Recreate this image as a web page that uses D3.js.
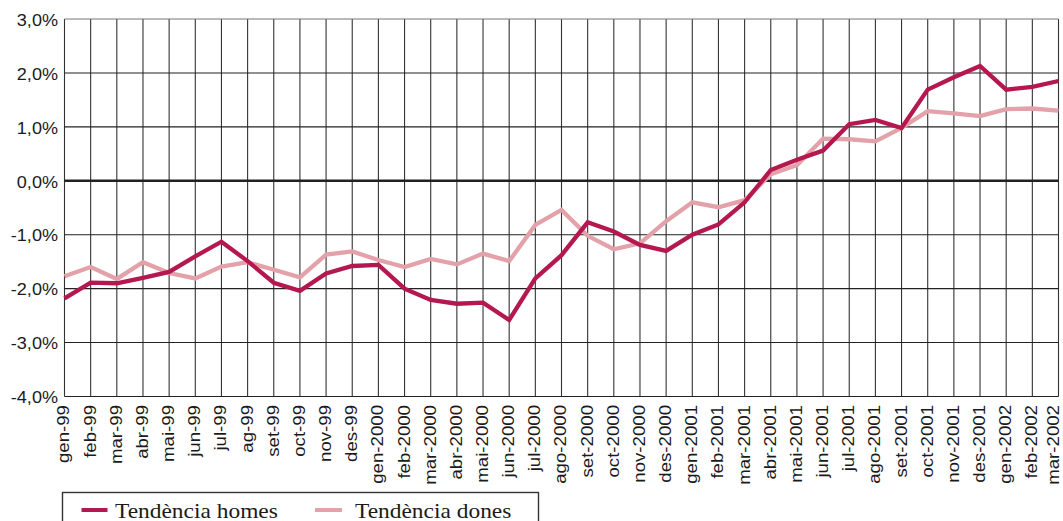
<!DOCTYPE html>
<html><head><meta charset="utf-8">
<script src="https://cdn.jsdelivr.net/npm/d3@7"></script>
<style>
html,body{margin:0;padding:0;background:#fff;}
svg{display:block;}
</style></head>
<body>
<svg id="chart" width="1063" height="521"></svg>
<script>
const months = ["gen-99","feb-99","mar-99","abr-99","mai-99","jun-99","jul-99","ag-99","set-99","oct-99","nov-99","des-99",
"gen-2000","feb-2000","mar-2000","abr-2000","mai-2000","jun-2000","jul-2000","ago-2000","set-2000","oct-2000","nov-2000","des-2000",
"gen-2001","feb-2001","mar-2001","abr-2001","mai-2001","jun-2001","jul-2001","ago-2001","set-2001","oct-2001","nov-2001","des-2001",
"gen-2002","feb-2002","mar-2002"];
const homes = [-2.18,-1.89,-1.90,-1.80,-1.69,-1.40,-1.13,-1.49,-1.89,-2.04,-1.72,-1.58,
-1.56,-2.00,-2.21,-2.28,-2.26,-2.58,-1.81,-1.38,-0.77,-0.94,-1.19,-1.30,
-1.00,-0.81,-0.40,0.20,0.39,0.56,1.05,1.13,0.98,1.69,1.92,2.13,
1.69,1.74,1.85];
const dones = [-1.77,-1.60,-1.82,-1.51,-1.71,-1.81,-1.59,-1.51,-1.65,-1.79,-1.37,-1.31,
-1.47,-1.60,-1.45,-1.55,-1.35,-1.49,-0.82,-0.54,-1.02,-1.27,-1.16,-0.75,
-0.40,-0.49,-0.36,0.12,0.29,0.78,0.77,0.73,0.98,1.29,1.25,1.20,
1.33,1.34,1.30];
const yTicks = [3,2,1,0,-1,-2,-3,-4];
const seriesNames = ["Tendència homes","Tendència dones"];
const seriesColors = ["#b5174f","#e3a2a9"];

const svg = d3.select("#chart");
const W = 1063;
const L = 64.5, R = 1058.5, T = 19, B = 396.5;
const x = d3.scalePoint().domain(months).range([L, R]);
const y = d3.scaleLinear().domain([-4, 3]).range([B, T]);
const fmt = v => d3.format(".1f")(v).replace(".", ",").replace("−","-") + "%";
const stretch = 1.13;

// vertical grid
svg.append("g").selectAll("line").data(months).join("line")
  .attr("x1", d => x(d)).attr("x2", d => x(d))
  .attr("y1", T).attr("y2", B)
  .attr("stroke", "#333").attr("stroke-width", 1.1);
// horizontal grid
svg.append("g").selectAll("line").data(yTicks.filter(d => d !== 0)).join("line")
  .attr("x1", L).attr("x2", R)
  .attr("y1", d => y(d)).attr("y2", d => y(d))
  .attr("stroke", d => d === 3 ? "#777" : "#222").attr("stroke-width", 1.1);
// zero line
svg.append("line").attr("x1", L).attr("x2", R).attr("y1", y(0)).attr("y2", y(0))
  .attr("stroke", "#222").attr("stroke-width", 2.6);

// y labels
svg.append("g").selectAll("g").data(yTicks).join("g")
  .attr("transform", d => `translate(58,${y(d)}) scale(${stretch},1)`)
  .append("text")
  .attr("text-anchor", "end").attr("dy", "0.42em")
  .attr("font-family", "'Liberation Sans', Arial, sans-serif").attr("font-size", 16)
  .attr("fill", "#1a1a1a")
  .text(d => fmt(d));

// x labels (last one kept inside the page edge)
svg.append("g").selectAll("g").data(months).join("g")
  .attr("transform", d => `translate(${Math.min(x(d), W - 8.5)},405) rotate(-90) scale(${stretch},1)`)
  .append("text")
  .attr("text-anchor", "end").attr("dy", "0.3em")
  .attr("font-family", "'Liberation Sans', Arial, sans-serif").attr("font-size", 16.5)
  .attr("fill", "#1a1a1a")
  .text(d => d);

// lines
const line = d3.line().x((d, i) => x(months[i])).y(d => y(d));
[dones, homes].forEach((s, k) => {
  svg.append("path").datum(s)
    .attr("d", line)
    .attr("fill", "none")
    .attr("stroke", k === 0 ? seriesColors[1] : seriesColors[0])
    .attr("stroke-width", 4.3)
    .attr("stroke-linejoin", "miter");
});

// legend
svg.append("rect").attr("x", 62.5).attr("y", 492.5).attr("width", 476).attr("height", 40)
  .attr("fill", "#fff").attr("stroke", "#333").attr("stroke-width", 1.4);
const legX = [[81.5, 107.5, 115], [315, 342, 355]];
seriesNames.forEach((n, i) => {
  svg.append("line").attr("x1", legX[i][0]).attr("x2", legX[i][1]).attr("y1", 510).attr("y2", 510)
    .attr("stroke", seriesColors[i]).attr("stroke-width", 4);
  svg.append("g").attr("transform", `translate(${legX[i][2]},517.5) scale(1.09,1)`)
    .append("text")
    .attr("font-family", "'Liberation Serif', 'Times New Roman', serif").attr("font-size", 21.5)
    .attr("fill", "#1a1a1a")
    .text(n);
});
</script>
</body></html>
